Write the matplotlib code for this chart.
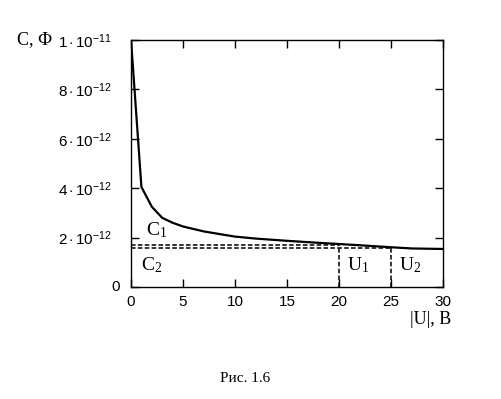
import matplotlib
matplotlib.use("Agg")
import matplotlib.pyplot as plt

plt.rcParams['font.family'] = ['Liberation Serif', 'DejaVu Serif']
plt.rcParams['mathtext.fontset'] = 'custom'
plt.rcParams['mathtext.rm'] = 'Liberation Serif'
plt.rcParams['mathtext.it'] = 'Liberation Serif:italic'
plt.rcParams['mathtext.sf'] = 'Liberation Sans'

# curve C(|U|)
u = [0, 1, 2, 3, 4, 5, 7, 10, 12, 15, 18, 20, 22, 25, 27, 30]
c = [1.0e-11, 4.05e-12, 3.25e-12, 2.8e-12, 2.6e-12, 2.45e-12, 2.25e-12,
     2.04e-12, 1.96e-12, 1.87e-12, 1.79e-12, 1.74e-12, 1.69e-12, 1.61e-12,
     1.56e-12, 1.54e-12]

# the two marked points
u_marks = [20, 25]
c_marks = [1.70e-12, 1.59e-12]

y_ticks = [0, 2e-12, 4e-12, 6e-12, 8e-12, 1e-11]
y_tick_labels = ['', r'$\mathsf{2\cdot10^{-12}}$', r'$\mathsf{4\cdot10^{-12}}$',
                 r'$\mathsf{6\cdot10^{-12}}$', r'$\mathsf{8\cdot10^{-12}}$',
                 r'$\mathsf{1\cdot10^{-11}}$']
x_ticks = [0, 5, 10, 15, 20, 25, 30]

fig = plt.figure(figsize=(5.02, 3.99), dpi=100)
ax = fig.add_axes([0.261, 0.2807, 0.6215, 0.619])

ax.plot(u, c, color='black', lw=1.6)
for um, cm in zip(u_marks, c_marks):
    ax.plot([0, um], [cm, cm], color='black', lw=1.1, ls=(0, (3, 1.5)))
    ax.plot([um, um], [0, cm], color='black', lw=1.1, ls=(0, (3, 1.5)))

ax.set_xlim(0, 30)
ax.set_ylim(0, 1e-11)
ax.set_xticks(x_ticks)
ax.set_yticks(y_ticks)
ax.set_yticklabels(y_tick_labels)
ax.tick_params(direction='in', top=True, right=True, length=6, width=1,
               labelsize=11)
ax.tick_params(axis='y', pad=14)
ax.tick_params(axis='x', pad=6)
for lbl in ax.get_xticklabels() + ax.get_yticklabels():
    lbl.set_family(['Liberation Sans', 'DejaVu Sans'])
for s in ax.spines.values():
    s.set_linewidth(1)

# zero of the y axis sits closer to the axis
ax.text(-0.035, 0, '0', transform=ax.transAxes, fontsize=11,
        family=['Liberation Sans', 'DejaVu Sans'], ha='right', va='center')

ax.text(1.4, 2.3e-12, '$\\mathrm{C_1}$', fontsize=14, va='center')
ax.text(1.0, 0.9e-12, '$\\mathrm{C_2}$', fontsize=14, va='center')
ax.text(20.8, 0.9e-12, '$\\mathrm{U_1}$', fontsize=14, va='center')
ax.text(25.8, 0.9e-12, '$\\mathrm{U_2}$', fontsize=14, va='center')

fig.text(17 / 502, 1 - 40 / 399, 'С, Ф', fontsize=13, va='center')
fig.text(410 / 502, 1 - 320 / 399, '|U|, В', fontsize=13, va='center')
fig.text(245 / 502, 1 - 378 / 399, 'Рис. 1.6', fontsize=11, va='center',
         ha='center')

fig.savefig('out.png', dpi=100)
